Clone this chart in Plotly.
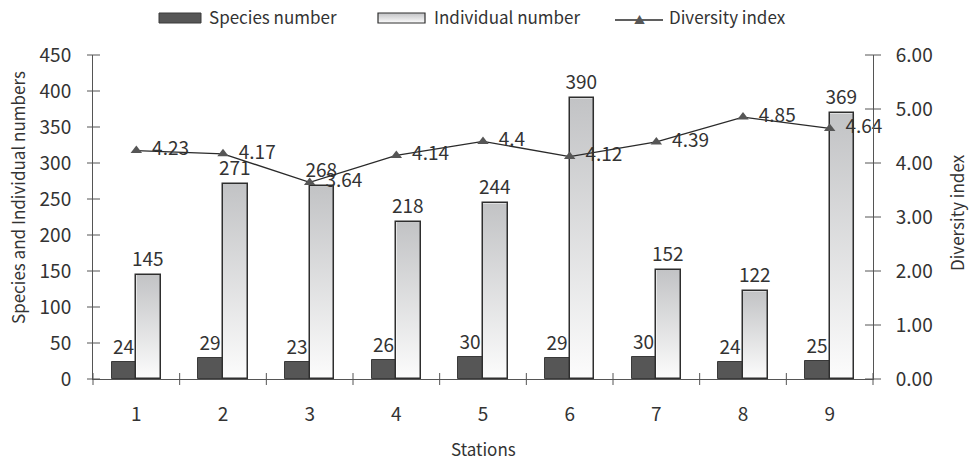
import base64
import plotly.graph_objects as go

# ---- data ----
stations = [1, 2, 3, 4, 5, 6, 7, 8, 9]
station_labels = ["1", "2", "3", "4", "5", "6", "7", "8", "9"]
species_number = [24, 29, 23, 26, 30, 29, 30, 24, 25]
individual_number = [145, 271, 268, 218, 244, 390, 152, 122, 369]
diversity_index = [4.23, 4.17, 3.64, 4.14, 4.4, 4.12, 4.39, 4.85, 4.64]

left_ticks = [0, 50, 100, 150, 200, 250, 300, 350, 400, 450]
right_ticks = [0, 1, 2, 3, 4, 5, 6]

# ---- styling ----
FONT = "Noto Sans CJK JP, Noto Sans, sans-serif"
TXT = "#333333"
AX = "#555555"
DARK = "#565656"
BAR_W = 0.285

# plot area in pixels (figure is 969 x 462)
W, H = 969, 462
PL, PR, PT, PB = 93, 873, 55, 379
XR = [0.5, 9.5]
YR = [0, 450]
Y2R = [0, 6]


def px_x(px):
    return (px - PL) / (PR - PL)


def px_y(py):
    return (PB - py) / (PB - PT)


# vertical grey-to-white gradient used to fill the individual-number bars
svg = (
    '<svg xmlns="http://www.w3.org/2000/svg" width="10" height="100" '
    'viewBox="0 0 10 100" preserveAspectRatio="none">'
    '<defs><linearGradient id="g" x1="0" y1="0" x2="0" y2="1">'
    '<stop offset="0" stop-color="#c2c3c5"/>'
    '<stop offset="1" stop-color="#fcfcfc"/>'
    '</linearGradient></defs>'
    '<rect width="10" height="100" fill="url(#g)"/></svg>'
)
GRAD = "data:image/svg+xml;base64," + base64.b64encode(svg.encode()).decode()

fig = go.Figure()

fig.add_trace(go.Bar(
    x=stations, y=species_number, name="Species number",
    offset=-BAR_W, width=BAR_W,
    marker=dict(color=DARK, line=dict(color="#3a3a3a", width=1)),
    text=species_number, textposition="outside", constraintext="none",
    textfont=dict(family=FONT, size=19, color=TXT),
    cliponaxis=False, hoverinfo="skip",
))

fig.add_trace(go.Bar(
    x=stations, y=individual_number, name="Individual number",
    offset=0, width=BAR_W,
    marker=dict(color="rgba(0,0,0,0)", line=dict(color="#2e2e2e", width=1.5)),
    text=individual_number, textposition="outside", constraintext="none",
    textfont=dict(family=FONT, size=19, color=TXT),
    cliponaxis=False, hoverinfo="skip",
))

fig.add_trace(go.Scatter(
    x=stations, y=diversity_index, yaxis="y2", name="Diversity index",
    mode="lines+markers+text",
    line=dict(color="#2a2a2a", width=1.3),
    marker=dict(symbol="triangle-up", size=10, color=DARK),
    text=["  " + f"{v:g}" for v in diversity_index],
    textposition="middle right",
    textfont=dict(family=FONT, size=19, color=TXT),
    cliponaxis=False, hoverinfo="skip",
))

# gradient fills behind each individual-number bar
images = []
for s, v in zip(stations, individual_number):
    images.append(dict(
        source=GRAD, xref="x", yref="y",
        x=s, y=v, sizex=BAR_W, sizey=v,
        xanchor="left", yanchor="top",
        sizing="stretch", layer="below",
    ))

# tick marks crossing the axis lines (half outside, half inside),
# placed in paper space from the axis ranges
def xfrac(v):
    return (v - XR[0]) / (XR[1] - XR[0])


def yfrac(v, r):
    return (v - r[0]) / (r[1] - r[0])


shapes = []
TICK = dict(color=AX, width=1)
boundaries = [s + 0.5 for s in [0] + stations]
dy = 6 / (PB - PT)
for b in boundaries:
    shapes.append(dict(type="line", xref="paper", yref="paper",
                       x0=xfrac(b), x1=xfrac(b), y0=-dy, y1=dy, line=TICK))
for t in left_ticks:
    shapes.append(dict(type="line", xref="paper", yref="paper",
                       x0=-6 / (PR - PL), x1=7 / (PR - PL),
                       y0=yfrac(t, YR), y1=yfrac(t, YR), line=TICK))
for t in right_ticks:
    shapes.append(dict(type="line", xref="paper", yref="paper",
                       x0=1 - 8 / (PR - PL), x1=1 + 8 / (PR - PL),
                       y0=yfrac(t, Y2R), y1=yfrac(t, Y2R), line=TICK))

# legend drawn in paper coordinates
LEG_Y0, LEG_Y1 = px_y(23), px_y(13)
shapes += [
    dict(type="rect", xref="paper", yref="paper",
         x0=px_x(159), x1=px_x(201), y0=LEG_Y0, y1=LEG_Y1,
         fillcolor=DARK, line=dict(color="#3a3a3a", width=1)),
    dict(type="rect", xref="paper", yref="paper",
         x0=px_x(378), x1=px_x(425), y0=LEG_Y0, y1=LEG_Y1,
         fillcolor="rgba(0,0,0,0)", line=dict(color="#2e2e2e", width=1.2)),
    dict(type="line", xref="paper", yref="paper",
         x0=px_x(615), x1=px_x(663), y0=px_y(20), y1=px_y(20),
         line=dict(color="#2a2a2a", width=1.3)),
]
images.append(dict(
    source=GRAD, xref="paper", yref="paper",
    x=px_x(378), y=LEG_Y1, sizex=px_x(425) - px_x(378), sizey=LEG_Y1 - LEG_Y0,
    xanchor="left", yanchor="top", sizing="stretch", layer="above",
))

annotations = [
    dict(text="Species number", x=px_x(207), y=px_y(17), xref="paper", yref="paper",
         xanchor="left", yanchor="middle", showarrow=False,
         font=dict(family=FONT, size=17, color=TXT)),
    dict(text="Individual number", x=px_x(432), y=px_y(17), xref="paper", yref="paper",
         xanchor="left", yanchor="middle", showarrow=False,
         font=dict(family=FONT, size=17, color=TXT)),
    dict(text="Diversity index", x=px_x(667), y=px_y(17), xref="paper", yref="paper",
         xanchor="left", yanchor="middle", showarrow=False,
         font=dict(family=FONT, size=17, color=TXT)),
    dict(text="▲", x=px_x(639), y=px_y(19), xref="paper", yref="paper",
         xanchor="center", yanchor="middle", showarrow=False,
         font=dict(family=FONT, size=11, color=DARK)),
    # axis titles
    dict(text="Stations", x=px_x(483), y=px_y(448), xref="paper", yref="paper",
         xanchor="center", yanchor="middle", showarrow=False,
         font=dict(family=FONT, size=17, color=TXT)),
    dict(text="Species and Individual numbers", x=px_x(17), y=px_y(198),
         xref="paper", yref="paper", xanchor="center", yanchor="middle",
         showarrow=False, textangle=-90,
         font=dict(family=FONT, size=17, color=TXT)),
    dict(text="Diversity index", x=px_x(957), y=px_y(213),
         xref="paper", yref="paper", xanchor="center", yanchor="middle",
         showarrow=False, textangle=-90,
         font=dict(family=FONT, size=17, color=TXT)),
]

NOGRID = dict(showgrid=False, zeroline=False, fixedrange=True)

fig.update_layout(
    width=W, height=H,
    margin=dict(l=PL, r=W - PR, t=PT, b=H - PB),
    paper_bgcolor="white", plot_bgcolor="rgba(0,0,0,0)",
    showlegend=False,
    font=dict(family=FONT, size=19, color=TXT),
    xaxis=dict(range=XR, tickmode="array", tickvals=stations, ticktext=station_labels,
               ticks="", ticklabelstandoff=18,
               tickfont=dict(family=FONT, size=19, color=TXT),
               showline=True, linecolor=AX, linewidth=1, **NOGRID),
    yaxis=dict(range=YR, tickmode="array", tickvals=left_ticks,
               ticks="", ticklabelstandoff=17,
               tickfont=dict(family=FONT, size=19, color=TXT),
               showline=True, linecolor=AX, linewidth=1, **NOGRID),
    yaxis2=dict(overlaying="y", anchor="x", side="right", range=Y2R,
                tickmode="array", tickvals=right_ticks, tickformat=".2f",
                ticks="", ticklabelstandoff=18,
                tickfont=dict(family=FONT, size=19, color=TXT),
                showline=True, linecolor=AX, linewidth=1, **NOGRID),
    images=images,
    shapes=shapes,
    annotations=annotations,
    bargap=0,
)

fig.write_html("out.html", config=dict(displayModeBar=False))
